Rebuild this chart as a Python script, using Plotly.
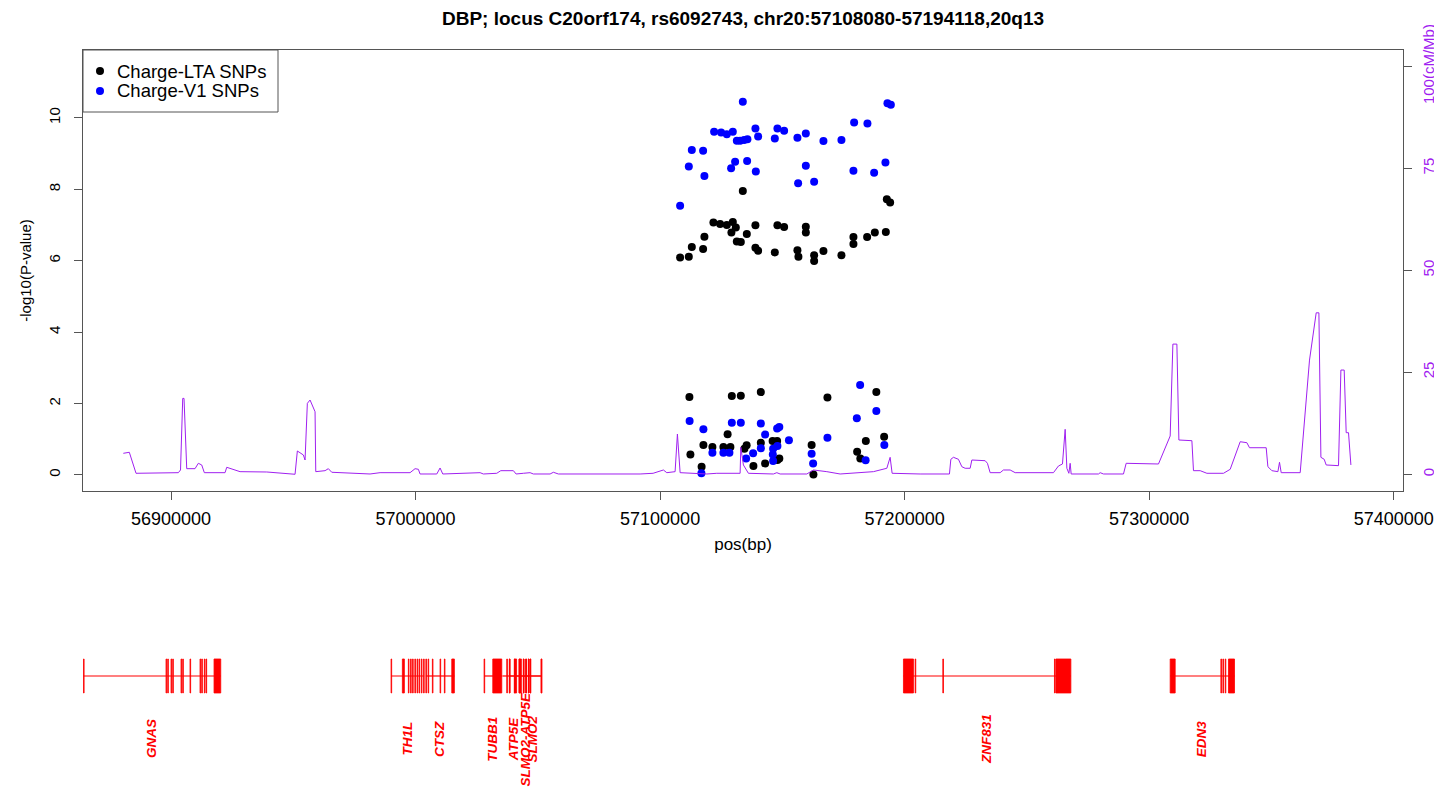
import plotly.graph_objects as go

# ---- association results (-log10 P) ----
lta_pos = [57133824, 57121800, 57124540, 57127280, 57129734, 57130961, 57129162, 57138978, 57147976, 57150716,
           57135460, 57118119, 57131370, 57133006, 57112965, 57117587, 57138980, 57140082, 57146912, 57108180,
           57111738, 57156156, 57156565, 57192720, 57194070, 57159591, 57159600, 57179060, 57179065, 57184663,
           57187812, 57192311, 57162986, 57162990, 57166790, 57174152,
           57111984, 57129325, 57133006, 57141186, 57127608, 57117710, 57121391, 57125890, 57128753, 57134479,
           57135379, 57141186, 57146013, 57147853, 57112393, 57116974, 57138160, 57142945, 57147976, 57148753,
           57188426, 57168426, 57191616, 57184131, 57161964, 57180573, 57181882, 57162700]
lta_logp = [7.95, 7.07, 7.03, 7.00, 7.08, 6.93, 6.79, 6.99, 6.99, 6.94,
            6.75, 6.67, 6.54, 6.52, 6.38, 6.33, 6.36, 6.28, 6.23, 6.09,
            6.11, 6.29, 6.11, 7.72, 7.63, 6.95, 6.79, 6.66, 6.47, 6.66,
            6.79, 6.80, 6.15, 5.99, 6.27, 6.15,
            2.18, 2.21, 2.22, 2.32, 1.14, 0.84, 0.78, 0.78, 0.78, 0.73,
            0.83, 0.90, 0.95, 0.95, 0.57, 0.23, 0.25, 0.32, 0.42, 0.46,
            2.32, 2.17, 1.07, 0.95, 0.84, 0.65, 0.46, 0.01]

v1_pos = [57133824, 57122086, 57124949, 57127280, 57129734, 57138978, 57140082, 57147976, 57150716, 57146912,
          57156156, 57131370, 57132720, 57134356, 57135706, 57112965, 57117587, 57130675, 57135583, 57129039,
          57111738, 57139141, 57118119, 57156442, 57108180, 57192966, 57194356, 57179346, 57184786, 57159591,
          57166790, 57174152, 57159595, 57192148, 57179060, 57187526, 57162986,
          57112066, 57117710, 57129325, 57133006, 57141186, 57147853, 57148753, 57142945, 57152679, 57141190,
          57146217, 57147976, 57146094, 57146220, 57121391, 57125890, 57128344, 57138037, 57135174, 57116892,
          57181800, 57188426, 57180450, 57168426, 57191698, 57161964, 57162577, 57184050]
v1_logp = [10.45, 9.61, 9.59, 9.54, 9.61, 9.70, 9.48, 9.70, 9.64, 9.42,
           9.44, 9.36, 9.36, 9.38, 9.40, 9.10, 9.08, 8.77, 8.79, 8.59,
           8.64, 8.50, 8.37, 8.17, 7.54, 10.41, 10.37, 9.87, 9.84, 9.56,
           9.35, 9.38, 8.66, 8.75, 8.52, 8.46, 8.21,
           1.51, 1.28, 1.46, 1.46, 1.44, 1.30, 1.34, 1.13, 0.97, 0.75,
           0.73, 0.81, 0.57, 0.39, 0.62, 0.62, 0.62, 0.61, 0.46, 0.05,
           2.52, 1.79, 1.59, 1.04, 0.84, 0.59, 0.32, 0.41]

# ---- recombination rate (cM/Mb) ----
recomb_pos = [56880490, 56882944, 56885684, 56902985, 56903884, 56904784, 56905316, 56906134, 56906420, 56909815,
              56911165, 56912555, 56913619, 56922085, 56922780, 56928220, 56939140, 56950715, 56951656, 56954110,
              56954805, 56955746, 56956850, 56958895, 56959181, 56962985, 56964335, 56965725, 56981390, 56985480,
              56997750, 56999795, 57001145, 57001840, 57008670, 57010020, 57011124, 57026380, 57027730, 57033210,
              57034846, 57040000, 57041104, 57044090, 57046830, 57048180, 57055010, 57056360, 57058405, 57091820,
              57097137, 57101350, 57102740, 57106135, 57107076, 57108180, 57119100, 57123190, 57132720, 57133006,
              57134070, 57136115, 57146340, 57147730, 57149080, 57160000, 57162700, 57168180, 57173620, 57187240,
              57192720, 57194070, 57194888, 57206340, 57218324, 57218896, 57219960, 57222005, 57223395, 57224745,
              57226790, 57227485, 57232925, 57233866, 57234970, 57239060, 57240410, 57243150, 57245195, 57260860,
              57262905, 57264540, 57265645, 57266340, 57267158, 57267690, 57268100, 57279265, 57279960, 57281310,
              57289490, 57290594, 57303805, 57308590, 57309694, 57311330, 57312148, 57317465, 57318120, 57320860,
              57323600, 57330390, 57333130, 57337220, 57339960, 57341024, 57347854, 57348550, 57350185, 57352640,
              57353294, 57353990, 57361760, 57365564, 57368304, 57369408, 57370226, 57371576, 57372394, 57377425,
              57378406, 57379756, 57380574, 57381515, 57382496]
recomb_rate = [5.14, 5.39, 0.24, 0.39, 1.05, 18.6, 18.6, 6.44, 1.37, 1.37,
               2.69, 2.28, 0.39, 0.39, 1.71, 0.64, 0.56, 0.0, 5.71, 4.73,
               3.50, 17.39, 18.2, 15.33, 0.64, 0.88, 1.37, 0.49, 0.07, 0.39,
               0.39, 1.37, 1.22, 0.07, 0.07, 1.54, 0.07, 0.39, 0.07, 0.24,
               0.88, 0.88, 0.07, 0.24, 0.39, 0.07, 0.07, 0.49, 0.07, 0.07,
               0.24, 1.05, 0.39, 0.64, 9.87, 0.39, 0.07, 0.24, 0.24, 6.61,
               2.28, 0.24, 0.07, 0.39, 0.07, 0.07, 1.05, 0.64, 0.07, 0.64,
               1.47, 4.16, 0.24, 0.07, 0.07, 3.67, 4.16, 3.67, 1.86, 1.47,
               1.47, 3.50, 3.33, 2.69, 0.39, 0.39, 1.05, 1.05, 0.39, 0.39,
               2.03, 2.52, 11.02, 1.47, 0.24, 2.69, 0.07, 0.07, 0.39, 0.07,
               0.07, 2.69, 2.52, 9.38, 31.91, 31.91, 8.40, 8.23, 0.88, 0.88,
               0.24, 0.24, 1.22, 7.98, 7.74, 6.51, 6.51, 1.86, 0.88, 0.64,
               2.94, 0.39, 0.39, 27.99, 39.58, 39.58, 4.16, 3.67, 2.28, 2.11,
               25.55, 25.55, 10.19, 10.19, 2.28]

# ---- genes ----
gene_names = ["GNAS", "TH1L", "CTSZ", "TUBB1", "ATP5E", "SLMO2-ATP5E", "SLMO2", "ZNF831", "EDN3"]
gene_start = [56864200, 56989979, 57004212, 57028016, 57035500, 57038364, 57044090, 57199510, 57308590]
gene_end = [56920326, 57003521, 57015869, 57035255, 57044500, 57051615, 57051615, 57267976, 57334889]
exon_start = [
    [56864200, 56897954, 56898649, 56899999, 56900694, 56904089, 56904784, 56907770, 56911860, 56912555,
     56913619, 56914314, 56917586],
    [56989979, 56994601, 56997055, 56997954, 56998772, 56999713, 57000613, 57001431, 57002372, 57003271],
    [57004212, 57005112, 57006871, 57010020, 57011779, 57014805],
    [57028016, 57031574],
    [57037300, 57038364, 57040409, 57042331],
    [57038364, 57040409, 57042331, 57044090, 57045071, 57046135, 57046830, 57051365],
    [57044090, 57045071, 57046135, 57046830, 57051365],
    [57199510, 57204295, 57215624, 57261269, 57261841],
    [57308590, 57329326, 57330144, 57331085, 57332435],
]
exon_end = [
    [56864450, 56898204, 56898899, 56900249, 56900944, 56904339, 56905034, 56908020, 56912110, 56912805,
     56913869, 56914564, 56920326],
    [56990229, 56995419, 56997305, 56998204, 56999022, 56999963, 57000863, 57001681, 57002622, 57003521],
    [57004462, 57005362, 57007121, 57010270, 57012029, 57015869],
    [57028266, 57035255],
    [57037550, 57038614, 57041308, 57043272],
    [57038614, 57040659, 57042581, 57044340, 57045321, 57046385, 57047080, 57051615],
    [57044340, 57045321, 57046385, 57047080, 57051615],
    [57203600, 57204545, 57215874, 57261519, 57267976],
    [57310635, 57329576, 57330394, 57331335, 57334889],
]

x_ticks = [56900000, 57000000, 57100000, 57200000, 57300000, 57400000]
logp_ticks = [0, 2, 4, 6, 8, 10]
rate_ticks = [0, 25, 50, 75, 100]
rate_ticktext = ["0", "25", "50", "75", "100(cM/Mb)"]

title = "DBP; locus C20orf174, rs6092743, chr20:57108080-57194118,20q13"
legend_labels = ["Charge-LTA SNPs", "Charge-V1 SNPs"]
legend_colors = ["black", "blue"]
x_range = [56864000, 57403800]

PURPLE = "#A020F0"
FONT = "Liberation Sans, Arial, sans-serif"
BOX = "#555555"

# the page puts the figure 8px in from the top-left corner, so the figure is
# 8px smaller than the window and the margins are trimmed by the same amount
OFF = 8
W, H = 1442 - OFF, 789 - OFF
ML, MR, MT, MB = 83 - OFF, 39, 50 - OFF, 0
PW, PH = W - ML - MR, H - MT - MB


def px(x):
    # window pixel -> paper fraction
    return (x - OFF - ML) / PW


def py(y):
    return (H - MB - (y - OFF)) / PH


fig = go.Figure()

# recombination rate on the right axis
fig.add_trace(go.Scatter(x=recomb_pos, y=recomb_rate, mode="lines", yaxis="y2",
                         line=dict(color=PURPLE, width=1), showlegend=False, hoverinfo="skip"))

fig.add_trace(go.Scatter(x=lta_pos, y=lta_logp, mode="markers", name=legend_labels[0],
                         marker=dict(color=legend_colors[0], size=8), showlegend=False))
fig.add_trace(go.Scatter(x=v1_pos, y=v1_logp, mode="markers", name=legend_labels[1],
                         marker=dict(color=legend_colors[1], size=8), showlegend=False))

# gene track: gene body at y=0, exons span -1..1
annotations = []
for i, g in enumerate(gene_names):
    fig.add_trace(go.Scatter(x=[gene_start[i], gene_end[i]], y=[0, 0], mode="lines",
                             xaxis="x2", yaxis="y3", line=dict(color="red", width=1.2),
                             showlegend=False, hoverinfo="skip"))
    ex, ey = [], []
    for s, e in zip(exon_start[i], exon_end[i]):
        ex += [s, e, e, s, s, None]
        ey += [-1, -1, 1, 1, -1, None]
    fig.add_trace(go.Scatter(x=ex, y=ey, mode="lines", fill="toself", fillcolor="red",
                             xaxis="x2", yaxis="y3", line=dict(color="red", width=0.8),
                             showlegend=False, hoverinfo="skip"))
    mid = (max(gene_start[i], x_range[0]) + gene_end[i]) / 2
    annotations.append(dict(x=mid, y=-3.7, xref="x2", yref="y3", text=g, showarrow=False,
                            textangle=-90, font=dict(family=FONT, size=13.5, color="red",
                                                     style="italic", weight="bold")))

# legend drawn like R's legend(): box, dots and labels
shapes = [dict(type="rect", xref="paper", yref="paper", x0=px(83), x1=px(278),
               y0=py(112), y1=py(50), line=dict(color=BOX, width=1), fillcolor="white",
               layer="above")]
for k, (lab, col) in enumerate(zip(legend_labels, legend_colors)):
    yk = 71 + 20 * k
    shapes.append(dict(type="circle", xref="paper", yref="paper", xsizemode="pixel",
                       ysizemode="pixel", xanchor=px(100), yanchor=py(yk),
                       x0=-4, x1=4, y0=-4, y1=4, fillcolor=col, line=dict(width=0),
                       layer="above"))
    annotations.append(dict(x=px(115), y=py(yk), xref="paper", yref="paper", text=lab,
                            showarrow=False, xanchor="left", yanchor="middle",
                            font=dict(family=FONT, size=18.5, color="black")))

fig.update_layout(
    width=W, height=H,
    margin=dict(l=ML, r=MR, t=MT, b=MB, autoexpand=False),
    paper_bgcolor="white", plot_bgcolor="white",
    font=dict(family=FONT, color="black"),
    showlegend=False,
    title=dict(text=title, x=0.5, xref="paper", y=1 - (18 - OFF) / H, yref="container",
               yanchor="middle", font=dict(size=19, weight="bold")),
    xaxis=dict(domain=[0, 1], range=x_range, anchor="y", tickvals=x_ticks,
               ticktext=[str(t) for t in x_ticks], ticks="outside", ticklen=8,
               tickcolor=BOX, showline=True, linecolor=BOX, mirror=True,
               showgrid=False, zeroline=False, tickfont=dict(size=18),
               ticklabelstandoff=3, automargin=False,
               title=dict(text="pos(bp)", font=dict(size=17), standoff=10)),
    yaxis=dict(domain=[py(491), 1], range=[-0.45, 11.9], tickvals=logp_ticks,
               ticks="outside", ticklen=8, tickcolor=BOX, tickangle=-90,
               showline=True, linecolor=BOX, mirror=True, showgrid=False,
               zeroline=False, tickfont=dict(size=15), ticklabelstandoff=8,
               automargin=False,
               title=dict(text="-log10(P-value)", font=dict(size=15), standoff=10)),
    yaxis2=dict(overlaying="y", side="right", range=[-4.1, 104], tickvals=rate_ticks,
                ticktext=rate_ticktext, ticks="outside", ticklen=8, tickcolor=BOX,
                tickangle=-90, showgrid=False, zeroline=False, showline=False,
                tickfont=dict(size=15, color=PURPLE), ticklabelstandoff=4,
                automargin=False),
    xaxis2=dict(domain=[0, 1], range=x_range, anchor="y3", visible=False),
    yaxis3=dict(domain=[0, py(655)], range=[-6.65, 1.235], visible=False),
    annotations=annotations,
    shapes=shapes,
)

fig.write_html("out.html")
